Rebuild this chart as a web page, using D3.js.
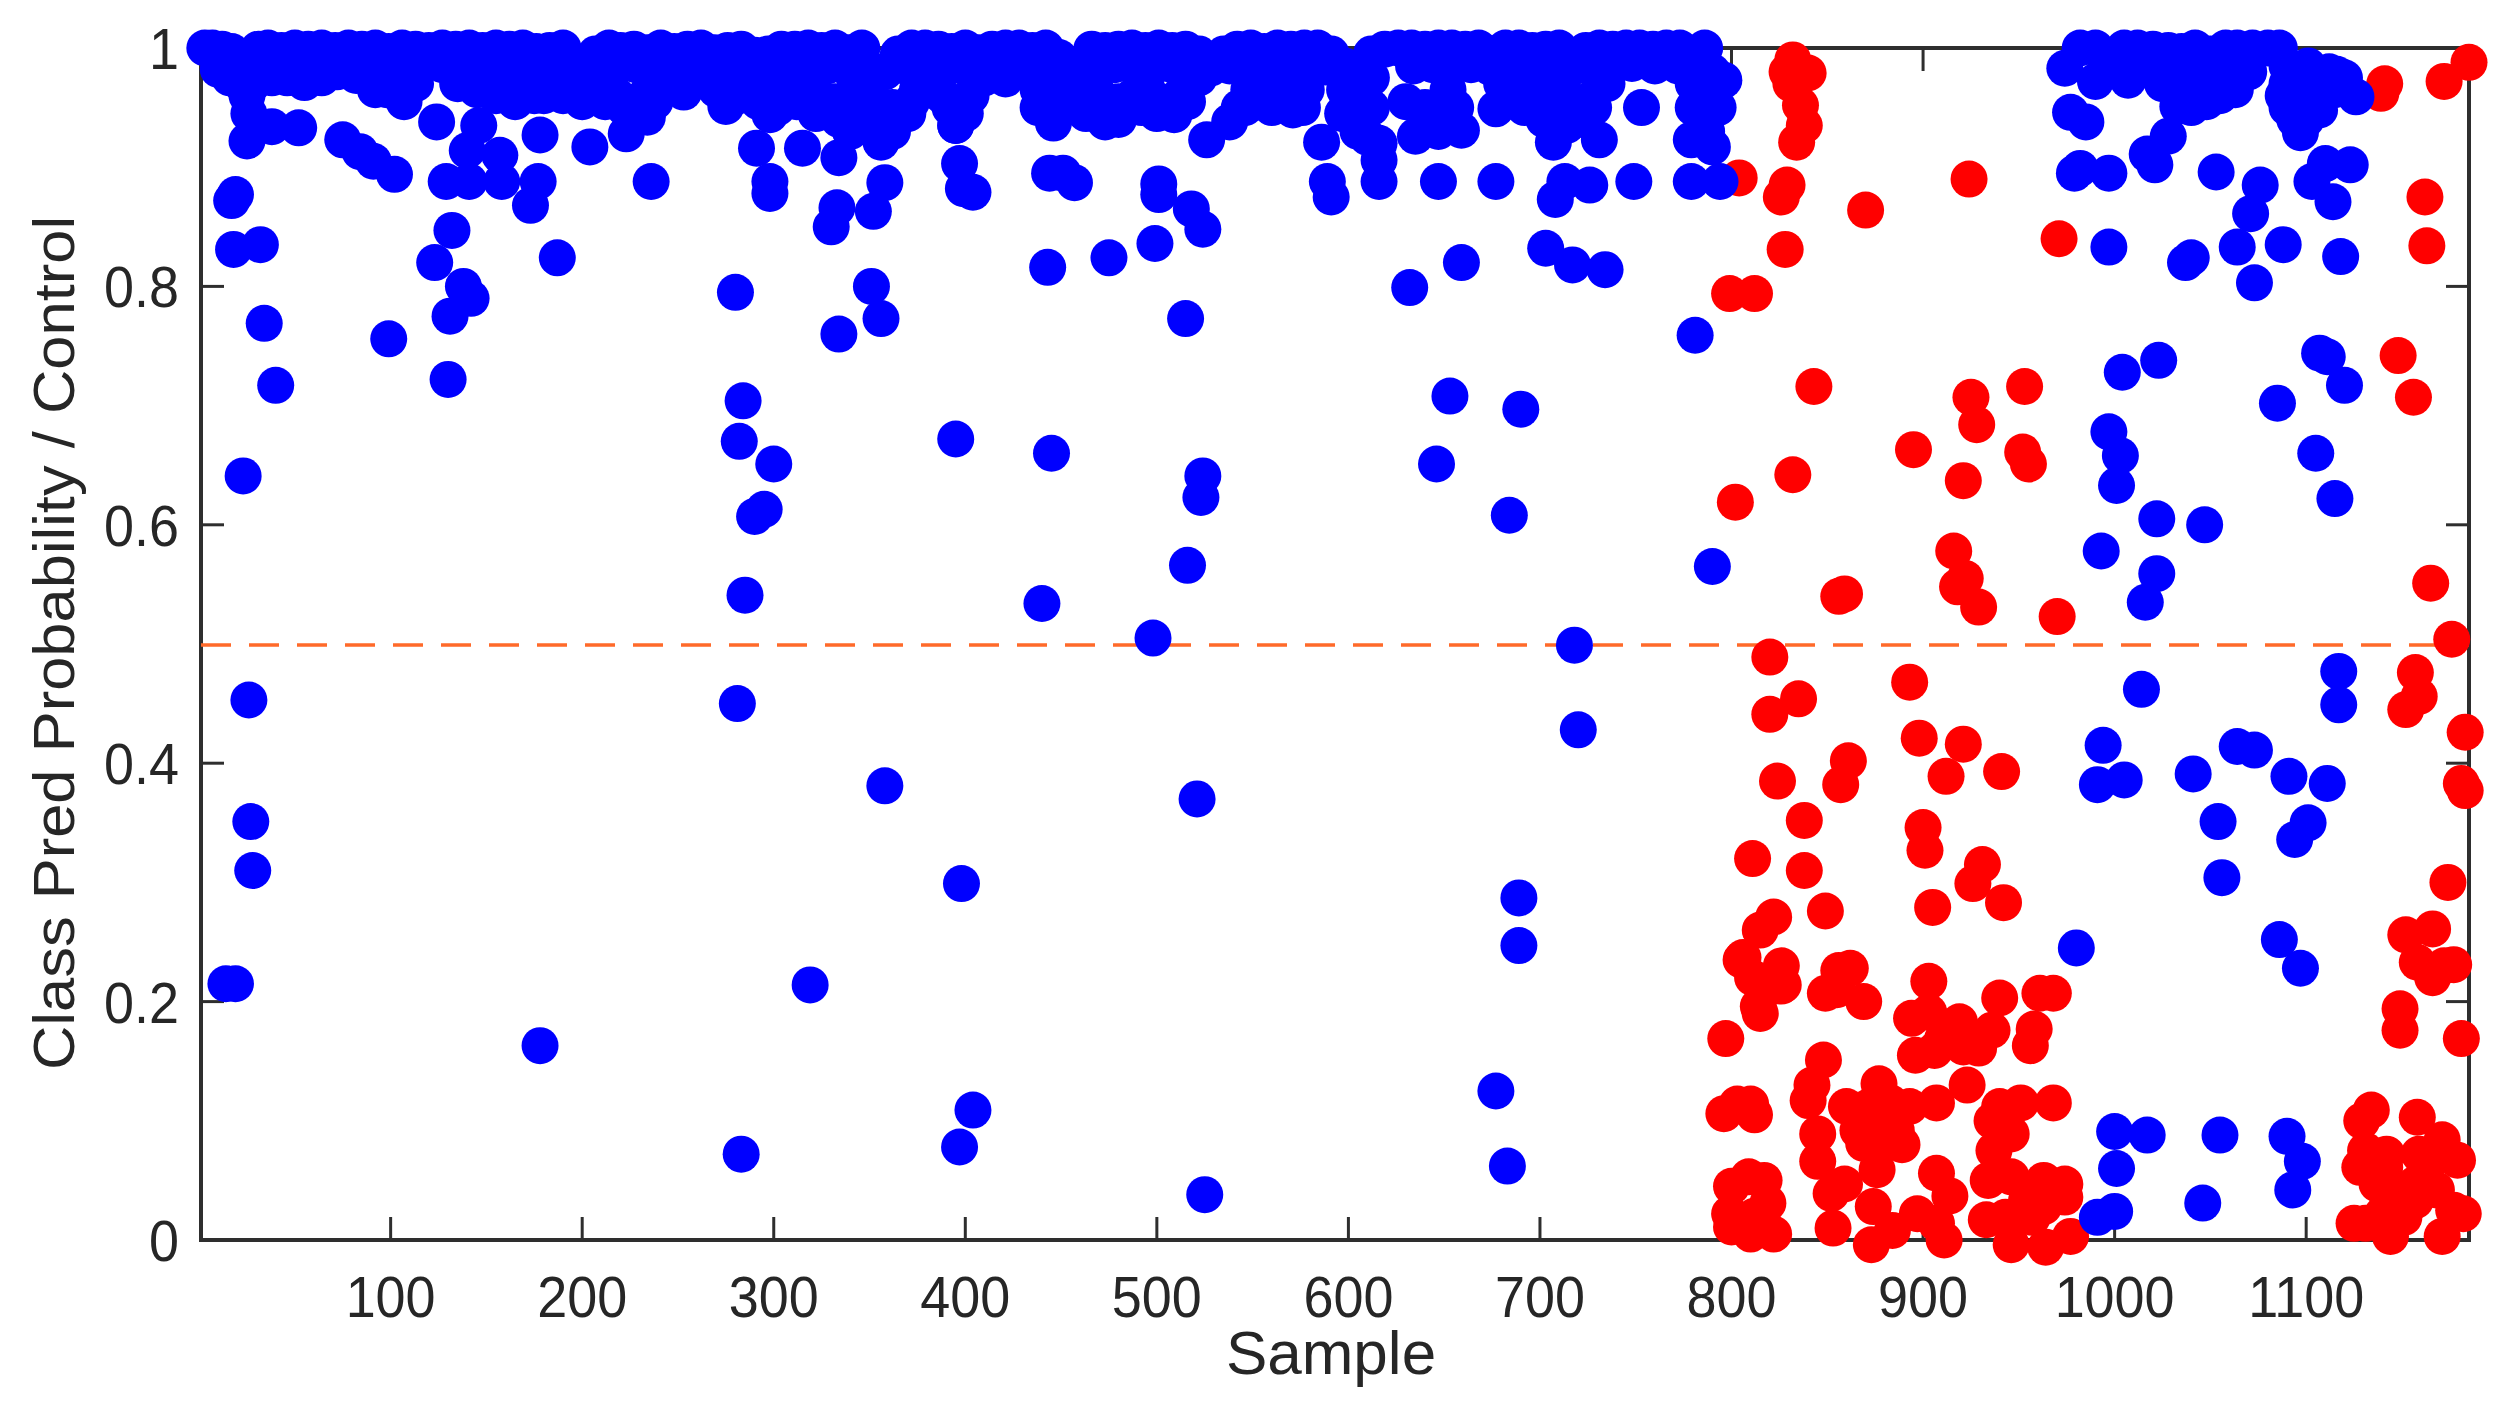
<!DOCTYPE html>
<html><head><meta charset="utf-8">
<style>html,body{margin:0;padding:0;background:#fff}svg{display:block}text{font-family:"Liberation Sans",Arial,sans-serif;fill:#262626}</style>
<script src="https://cdnjs.cloudflare.com/ajax/libs/d3/7.8.5/d3.min.js"></script>
</head><body><svg id="c" width="2506" height="1411"></svg>
<script>
const xTicks=[100,200,300,400,500,600,700,800,900,1000,1100];
const yTicks=[0,0.2,0.4,0.6,0.8,1];
const threshold=0.5;
const xLabel="Sample", yLabel="Class Pred Probability / Control";
// [sample, probability]
const blueTopRow=[[3,1],[7,1],[12,.999],[17,.997],[31,.999],[36,1],[43,.998],[50,1],[57,.999],[64,1],[71,.998],[78,1],[85,.999],[92,1],[99,.997],[106,1],[113,.999],[120,.998],[127,1],[134,.999],[141,1],[148,.998],[155,1],[162,.999],[169,1],[176,.997],[183,.998],[190,1],[207,.995],[214,1],[220,.998],[227,.999],[234,.996],[241,1],[248,.997],[255,.999],[262,1],[269,.996],[276,.998],[283,.999],[290,.994],[297,.995],[304,.999],[311,.999],[318,1],[325,.998],[332,1],[339,.996],[346,1],[365,.995],[372,1],[379,1],[386,.999],[393,.997],[400,1],[407,.996],[414,.999],[421,1],[428,1],[435,.998],[442,1],[449,.992],[466,.999],[473,.998],[480,.999],[487,1],[494,.998],[501,1],[508,.998],[515,.999],[522,.995],[535,.995],[542,.999],[549,1],[556,.997],[563,1],[570,.999],[577,1],[584,1],[591,.995],[612,.995],[619,.999],[626,1],[633,1],[640,.999],[647,1],[654,1],[661,.999],[668,1],[675,.995],[682,1],[689,1],[696,.998],[703,.999],[710,1],[717,.992],[724,.998],[731,1],[738,.999],[745,1],[752,1],[759,.999],[766,1],[773,1],[780,.995],[786,1],[982,1],[990,1],[1005,1],[1012,1],[1020,.999],[1028,.998],[1035,.997],[1042,1],[1050,.995],[1058,1],[1064,1],[1072,1],[1080,1],[1086,1],[1101,.985],[1116,.978]];
const blueMass=[[10,.982],[16,.975],[22,.97],[28,.97],[25,.96],[26,.945],[38,.975],[46,.975],[55,.971],[64,.975],[72,.98],[82,.977],[90,.975],[98,.965],[107,.955],[113,.97],[127,.986],[140,.975],[145,.965],[150,.97],[158,.975],[165,.97],[172,.965],[180,.96],[187,.97],[195,.97],[203,.965],[210,.97],[218,.96],[228,.955],[235,.965],[245,.97],[253,.963],[262,.975],[270,.965],[275,.951],[285,.975],[292,.955],[298,.944],[305,.965],[312,.975],[320,.965],[327,.955],[334,.94],[334,.908],[340,.93],[345,.95],[350,.94],[356,.921],[362,.93],[370,.945],[375,.965],[382,.97],[388,.96],[395,.935],[403,.96],[410,.975],[421,.974],[430,.98],[438,.965],[446,.937],[450,.96],[458,.95],[466,.955],[473,.938],[480,.955],[488,.96],[495,.965],[502,.955],[509,.944],[516,.955],[522,.975],[526,.923],[538,.938],[543,.95],[548,.965],[555,.975],[563,.96],[571,.948],[578,.965],[586,.921],[598,.965],[606,.95],[610,.925],[616,.92],[616,.906],[612,.975],[635,.926],[640,.95],[647,.93],[652,.965],[659,.931],[677,.949],[680,.97],[690,.97],[700,.98],[707,.921],[705,.955],[712,.96],[718,.945],[724,.955],[731,.923],[735,.97],[753,.95],[760,.985],[772,.985],[780,.97],[779,.923],[785,.965],[790,.962],[796,.973],[790,.917],[785,.945],[974,.983],[990,.972],[1007,.973],[1020,.98],[1030,.97],[1040,.975],[1050,.97],[1063,.965],[1070,.98],[1090,.97],[1095,.96],[1105,.97],[1115,.965],[1126,.959],[1120,.975],[1033,.951],[1040,.95],[1045,.96],[1090,.95],[1097,.929],[1107,.948],[1094,.94],[1100,.955],[1028,.926],[1021,.902],[1017,.911],[977,.946],[985,.938]];
const blueHidden=[[14,.986],[22,.985],[32,.985],[42,.986],[52,.985],[62,.986],[72,.987],[82,.986],[92,.985],[102,.985],[112,.984],[138,.985],[148,.986],[158,.985],[168,.986],[178,.984],[188,.985],[198,.986],[208,.984],[218,.985],[228,.986],[238,.984],[248,.985],[258,.986],[268,.984],[278,.985],[288,.986],[298,.984],[308,.985],[318,.986],[328,.985],[338,.984],[348,.985],[358,.98],[368,.985],[378,.986],[388,.984],[398,.985],[408,.986],[418,.985],[428,.986],[438,.984],[448,.98],[458,.975],[468,.985],[478,.986],[488,.985],[498,.984],[508,.986],[518,.985],[528,.983],[538,.985],[548,.986],[558,.985],[568,.984],[578,.985],[588,.984],[598,.985],[608,.984],[634,.985],[644,.986],[654,.984],[664,.986],[674,.984],[684,.986],[694,.985],[704,.984],[714,.98],[724,.985],[734,.986],[748,.987],[782,.985],[790,.98],
[92,.965],[102,.968],[135,.97],[155,.96],[165,.955],[175,.96],[190,.96],[200,.955],[212,.955],[222,.95],[238,.955],[282,.96],[290,.965],[302,.95],[312,.955],[322,.945],[332,.955],[342,.965],[352,.955],[362,.95],[372,.955],[392,.95],[400,.945],[438,.95],[454,.965],[463,.945],[470,.96],[480,.94],[492,.95],[500,.945],[512,.96],[546,.95],[553,.955],[560,.95],[568,.96],[576,.95],[597,.945],[605,.93],[612,.95],[630,.955],[641,.935],[650,.945],[656,.95],[682,.955],[692,.95],[702,.94],[714,.935],[722,.94],[728,.95],[780,.95],[787,.93],[793,.95],
[998,.985],[1012,.986],[1026,.985],[1040,.986],[1054,.985],[1068,.986],[1090,.985],[1104,.975],[1112,.98],[1035,.965],[1025,.97],[1055,.96],[1048,.955],[1098,.97],[1100,.94],[1088,.96]];
const blueLower=[[14,.215],[19,.215],[28,.31],[27,.351],[26,.453],[23,.641],[40,.717],[34,.769],[32,.835],[18,.831],[19,.877],[17,.872],[25,.922],[38,.934],[52,.933],[75,.923],[84,.913],[91,.905],[102,.894],[99,.756],[123,.82],[124,.938],[129,.888],[141,.888],[132,.847],[138,.80],[142,.79],[131,.775],[130,.722],[146,.935],[140,.914],[157,.91],[158,.888],[177,.888],[173,.868],[178,.927],[187,.824],[178,.163],[204,.917],[223,.928],[234,.942],[236,.888],[291,.916],[298,.888],[298,.878],[315,.916],[280,.795],[281,.45],[283,.072],[282,.67],[284,.704],[285,.541],[290,.607],[295,.613],[300,.651],[319,.214],[330,.85],[333,.866],[334,.76],[351,.80],[356,.773],[352,.863],[358,.887],[358,.381],[395,.672],[397,.903],[399,.882],[404,.879],[395,.935],[397,.078],[404,.109],[398,.299],[440,.534],[443,.816],[445,.66],[444,.895],[451,.895],[457,.887],[475,.824],[498,.505],[499,.836],[501,.886],[501,.877],[518,.865],[524,.848],[515,.773],[516,.566],[521,.37],[524,.641],[523,.623],[525,.038],[589,.888],[591,.875],[632,.799],[616,.888],[646,.651],[647,.888],[653,.708],[659,.82],[677,.125],[683,.062],[684,.608],[677,.888],[690,.697],[689,.287],[689,.247],[718,.499],[720,.428],[703,.832],[717,.818],[734,.814],[708,.873],[713,.888],[726,.885],[749,.888],[781,.759],[790,.565],[779,.888],[794,.888]];
const blueRight=[[980,.245],[982,.899],[979,.895],[997,.895],[997,.833],[994,.415],[991,.382],[1005,.386],[997,.678],[1003,.658],[1001,.633],[993,.578],[1004,.728],[1023,.738],[1000,.091],[1001,.06],[991,.019],[1000,.024],[1017,.088],[1022,.605],[1022,.559],[1016,.535],[1014,.462],[1037,.82],[1040,.824],[1047,.60],[1041,.391],[1046,.031],[1053,.896],[1054,.351],[1056,.304],[1055,.088],[1064,.833],[1064,.414],[1073,.411],[1073,.803],[1071,.861],[1076,.885],[1088,.835],[1085,.702],[1086,.252],[1091,.389],[1090,.087],[1098,.066],[1093,.042],[1097,.228],[1094,.336],[1101,.35],[1107,.744],[1111,.741],[1105,.66],[1115,.622],[1120,.717],[1118,.825],[1111,.383],[1117,.449],[1117,.477],[1114,.871],[1123,.902],[1110,.903],[1103,.888]];
const redUpper=[[804,.891],[799,.794],[812,.794],[802,.619],[828,.831],[826,.875],[829,.885],[832,.99],[840,.979],[829,.98],[831,.97],[836,.952],[838,.935],[834,.921],[843,.716],[832,.642],[870,.864],[924,.89],[971,.84],[895,.663],[925,.707],[928,.684],[921,.637],[953,.716],[952,.661],[955,.651],[916,.578],[922,.555],[918,.548],[929,.531],[856,.54],[859,.542],[970,.523],[1139,.962],[1141,.97],[1185,.988],[1172,.972],[1162,.875],[1163,.834],[1148,.742],[1156,.707],[1165,.551],[1176,.504]];
const redMiddle=[[820,.489],[820,.441],[835,.454],[824,.385],[838,.352],[838,.31],[811,.32],[806,.237],[822,.271],[815,.26],[826,.23],[827,.214],[814,.196],[811,.22],[849,.276],[861,.402],[857,.382],[893,.468],[898,.421],[921,.416],[941,.393],[912,.389],[900,.346],[901,.327],[905,.279],[931,.315],[926,.299],[942,.283],[1157,.476],[1152,.445],[1159,.456],[1183,.426],[1181,.383],[1183,.377],[1174,.30],[1152,.256],[1166,.261],[1158,.233],[1166,.22],[1172,.23],[1177,.231],[1149,.194],[1149,.176],[1181,.169]];
const redLower=[[797,.169],[815,.19],[805,.235],[826,.213],[815,.215],[849,.207],[856,.226],[862,.228],[869,.20],[855,.21],[903,.217],[940,.203],[961,.207],[968,.207],[958,.177],[956,.163],[894,.186],[903,.191],[919,.183],[896,.155],[910,.168],[921,.162],[936,.176],[929,.161],[906,.159],[916,.171],[848,.151],[842,.13],[840,.117],[796,.106],[803,.114],[810,.114],[812,.105],[845,.089],[845,.066],[877,.131],[860,.112],[872,.112],[883,.115],[893,.112],[907,.115],[866,.092],[874,.098],[886,.092],[877,.081],[869,.081],[889,.08],[876,.059],[923,.13],[940,.112],[951,.115],[968,.115],[936,.1],[946,.089],[937,.075],[907,.056],[914,.037],[859,.047],[852,.039],[853,.01],[874,.028],[884,.008],[873,-.004],[897,.022],[911,0],[907,.014],[934,.05],[933,.017],[946,.053],[963,.05],[974,.047],[974,.036],[963,.028],[943,.019],[957,.019],[946,-.004],[964,-.006],[977,.003],[954,.033],[809,.053],[800,.045],[817,.05],[819,.031],[800,.011],[810,.005],[822,.005],[799,.022],[812,.02],[1134,.109],[1129,.1],[1158,.103],[1131,.075],[1128,.061],[1142,.072],[1137,.047],[1145,.042],[1157,.033],[1131,.014],[1144,.003],[1151,.019],[1171,.003],[1182,.022],[1171,.084],[1179,.067],[1159,.072],[1165,.067],[1168,.042],[1157,.047],[1125,.014],[1140,.022],[1177,.025],[1141,.061]];

const svg=d3.select("#c");
const x=d3.scaleLinear().domain([1,1185]).range([201,2469]);
const y=d3.scaleLinear().domain([0,1]).range([1240,48]);
const ink="#2e2e2e", R=18.5;

function label(sel,size,squeeze){sel.style("font-size",size+"px").each(function(){
  const n=this.getComputedTextLength();this.setAttribute("textLength",n*squeeze);this.setAttribute("lengthAdjust","spacingAndGlyphs");});}

const frame=svg.append("g").attr("fill","none").attr("stroke",ink).attr("stroke-width",4);
frame.append("rect").attr("x",x.range()[0]).attr("y",y.range()[1]).attr("width",x.range()[1]-x.range()[0]).attr("height",y.range()[0]-y.range()[1]);
const L=23;
frame.selectAll(".xb").data(xTicks).join("line").attr("x1",d=>x(d)).attr("x2",d=>x(d)).attr("y1",y(0)).attr("y2",y(0)-L).attr("stroke-width",3);
frame.selectAll(".xt").data(xTicks).join("line").attr("x1",d=>x(d)).attr("x2",d=>x(d)).attr("y1",y(1)).attr("y2",y(1)+L).attr("stroke-width",3);
frame.selectAll(".yl").data(yTicks).join("line").attr("x1",x(1)).attr("x2",x(1)+L).attr("y1",d=>y(d)).attr("y2",d=>y(d)).attr("stroke-width",3);
frame.selectAll(".yr").data(yTicks).join("line").attr("x1",x(1185)).attr("x2",x(1185)-L).attr("y1",d=>y(d)).attr("y2",d=>y(d)).attr("stroke-width",3);

svg.append("line").attr("x1",x(1)).attr("x2",x(1185)).attr("y1",y(threshold)+1).attr("y2",y(threshold)+1)
  .attr("stroke","#ff6a2a").attr("stroke-width",3.5).attr("stroke-dasharray","30 18");

const redPts=[...redUpper,...redMiddle,...redLower], bluePts=[...blueTopRow,...blueHidden,...blueMass,...blueLower,...blueRight];
svg.append("g").attr("fill","#ff0000").selectAll("circle").data(redPts).join("circle").attr("cx",d=>x(d[0])).attr("cy",d=>y(d[1])).attr("r",R);
svg.append("g").attr("fill","#0000ff").selectAll("circle").data(bluePts).join("circle").attr("cx",d=>x(d[0])).attr("cy",d=>y(d[1])).attr("r",R);

svg.append("g").selectAll("text").data(xTicks).join("text").attr("x",d=>x(d)).attr("y",1317).attr("text-anchor","middle").text(d=>d).call(label,58,.93);
svg.append("g").selectAll("text").data(yTicks).join("text").attr("x",179).attr("y",d=>y(d)+21).attr("text-anchor","end").text(d=>d).call(label,58,.93);
svg.append("text").attr("x",1331).attr("y",1374).attr("text-anchor","middle").text(xLabel).call(label,62,1);
svg.append("text").attr("transform","translate(74,643) rotate(-90)").attr("text-anchor","middle").text(yLabel).call(label,58,1.06);
</script></body></html>
